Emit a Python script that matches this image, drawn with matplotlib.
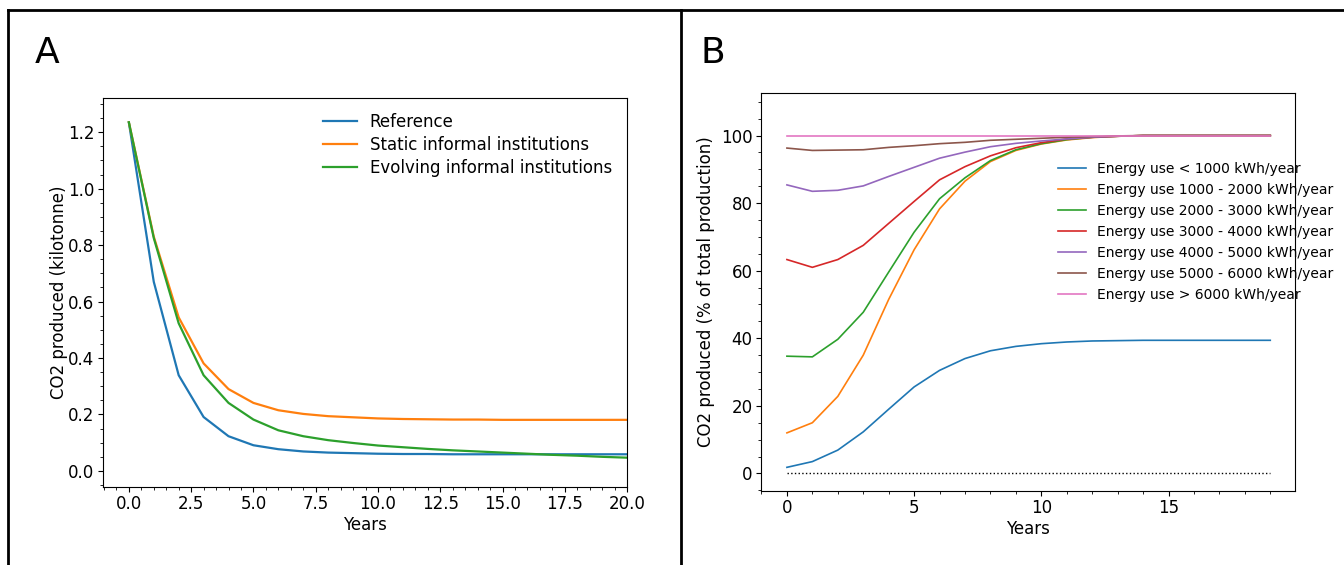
import matplotlib.pyplot as plt
from matplotlib.lines import Line2D
from matplotlib.ticker import MultipleLocator

# Panel A: CO2 produced (kilotonne) per year
years_a = list(range(21))
reference = [1.235, 0.670, 0.339, 0.191, 0.123, 0.091, 0.077, 0.069, 0.065, 0.063, 0.061,
             0.060, 0.060, 0.059, 0.059, 0.059, 0.059, 0.059, 0.059, 0.059, 0.059]
static = [1.235, 0.830, 0.544, 0.381, 0.290, 0.241, 0.215, 0.202, 0.194, 0.190, 0.186,
          0.184, 0.183, 0.182, 0.182, 0.181, 0.181, 0.181, 0.181, 0.181, 0.181]
evolving = [1.235, 0.825, 0.523, 0.339, 0.241, 0.182, 0.144, 0.123, 0.109, 0.099, 0.090,
            0.084, 0.078, 0.073, 0.069, 0.065, 0.061, 0.057, 0.054, 0.050, 0.047]
labels_a = ["Reference", "Static informal institutions", "Evolving informal institutions"]

# Panel B: CO2 produced (% of total production) per energy-use group
years_b = list(range(20))
e_lt1000 = [1.8, 3.5, 6.9, 12.3, 19.0, 25.6, 30.5, 34.0, 36.3, 37.6, 38.4,
            38.9, 39.2, 39.3, 39.4, 39.4, 39.4, 39.4, 39.4, 39.4]
e_1000 = [12.0, 15.0, 22.8, 35.0, 51.5, 66.2, 78.3, 86.5, 92.3, 95.6, 97.5,
          98.7, 99.4, 99.8, 100, 100, 100, 100, 100, 100]
e_2000 = [34.7, 34.5, 39.7, 47.7, 59.6, 71.4, 81.3, 87.5, 92.6, 95.8, 97.6,
          98.8, 99.5, 99.8, 100, 100, 100, 100, 100, 100]
e_3000 = [63.3, 61.0, 63.3, 67.5, 74.0, 80.5, 86.9, 90.8, 94.0, 96.4, 97.9,
          99.0, 99.5, 99.8, 100, 100, 100, 100, 100, 100]
e_4000 = [85.4, 83.5, 83.8, 85.1, 87.9, 90.6, 93.3, 95.1, 96.7, 97.7, 98.4,
          99.0, 99.5, 99.8, 100, 100, 100, 100, 100, 100]
e_5000 = [96.3, 95.6, 95.7, 95.8, 96.5, 97.0, 97.6, 98.0, 98.6, 98.9, 99.2,
          99.5, 99.7, 99.9, 100, 100, 100, 100, 100, 100]
e_gt6000 = [100] * 20
labels_b = ["Energy use < 1000 kWh/year", "Energy use 1000 - 2000 kWh/year",
            "Energy use 2000 - 3000 kWh/year", "Energy use 3000 - 4000 kWh/year",
            "Energy use 4000 - 5000 kWh/year", "Energy use 5000 - 6000 kWh/year",
            "Energy use > 6000 kWh/year"]

fig = plt.figure(figsize=(13.44, 5.65), dpi=100)

# panel A
ax1 = fig.add_axes([0.0766, 0.138, 0.39, 0.6885])
for series, lab in zip([reference, static, evolving], labels_a):
    ax1.plot(years_a, series, lw=1.6, label=lab)
ax1.set_xlim(-1.04, 20)
ax1.set_ylim(-0.057, 1.321)
ax1.minorticks_on()
ax1.tick_params(labelsize=12, pad=2.5)
ax1.set_xlabel("Years", fontsize=12, labelpad=2)
ax1.set_ylabel("CO2 produced (kilotonne)", fontsize=12, labelpad=0)
ax1.legend(frameon=False, fontsize=12, loc="upper right", labelspacing=0.3)

# panel B
ax2 = fig.add_axes([0.5662, 0.131, 0.3973, 0.7044])
for series, lab in zip([e_lt1000, e_1000, e_2000, e_3000, e_4000, e_5000, e_gt6000], labels_b):
    ax2.plot(years_b, series, lw=1.2, label=lab)
ax2.plot(years_b, [0] * len(years_b), color="black", ls=":", lw=1)
ax2.set_xlim(-1.02, 19.97)
ax2.set_ylim(-5.2, 112.6)
ax2.xaxis.set_major_locator(MultipleLocator(5))
ax2.minorticks_on()
ax2.tick_params(labelsize=12, pad=2.5)
ax2.set_xlabel("Years", fontsize=12, labelpad=2)
ax2.set_ylabel("CO2 produced (% of total production)", fontsize=12)
ax2.legend(frameon=False, fontsize=10, loc="upper left",
           bbox_to_anchor=(0.778, 0.735), bbox_transform=fig.transFigure)

# panel letters and frame
fig.text(0.026, 0.888, "A", fontsize=26)
fig.text(0.521, 0.888, "B", fontsize=26)
for xs, ys in [([0.006, 0.006], [0, 0.982]), ([0.006, 1], [0.982, 0.982]),
               ([0.5067, 0.5067], [0, 0.982])]:
    fig.add_artist(Line2D(xs, ys, color="black", lw=2, transform=fig.transFigure))

fig.savefig("out.png", dpi=100)
